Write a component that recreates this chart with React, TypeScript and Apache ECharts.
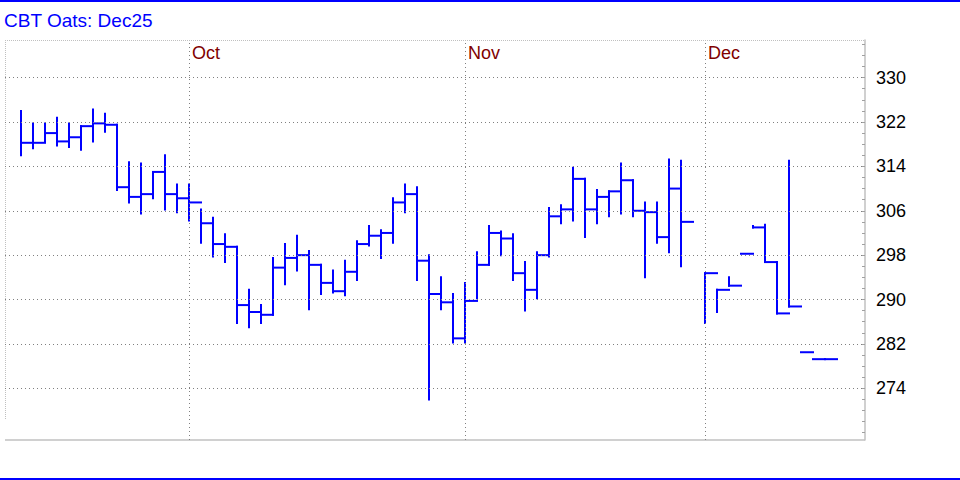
import React, { useEffect, useRef } from "react";
import * as echarts from "echarts";

// Daily bars (trading-day index 0 = first bar on the chart); null = no bar
const highs: (number | null)[] = [
  324.0, 321.75, 321.75, 322.75, 321.75, 321.25, 324.25, 323.5, 321.5, 314.75,
  314.5, 313.0, 316.0, 310.75, 310.75, 306.25, 304.75, 301.75, 299.5, 291.75,
  289.0, 297.5, 300.0, 301.5, 298.75, 296.25, 295.25, 297.0, 300.5, 303.25,
  302.5, 308.25, 310.75, 310.25, 298.0, 294.0, 291.0, 293.0, 298.5, 303.25,
  302.25, 301.75, 296.75, 298.5, 306.5, 307.0, 313.75, 311.75, 309.75, 309.5,
  314.5, 311.5, 307.5, 307.5, 315.25, 315.0, null, 294.75, 291.75, 294.0,
  298.25, 303.25, 303.5, 296.75, 315.0, 280.5, 279.25, 279.25,
];
const lows: (number | null)[] = [
  316.0, 317.25, 318.5, 317.75, 317.5, 317.0, 318.5, 320.25, 309.75, 307.5,
  305.5, 308.25, 306.25, 305.75, 304.25, 300.25, 297.75, 296.75, 285.75, 285.0,
  285.75, 287.25, 292.75, 295.25, 288.25, 291.0, 291.25, 290.75, 293.5, 299.75,
  297.5, 300.25, 305.75, 293.5, 272.0, 288.25, 282.25, 282.25, 290.25, 296.25,
  298.0, 293.5, 288.0, 290.25, 297.75, 303.75, 304.25, 301.25, 303.75, 305.0,
  305.5, 305.0, 294.0, 300.25, 298.5, 296.0, null, 285.75, 287.75, 292.5,
  298.25, 303.0, 296.75, 287.5, 288.75, 280.5, 279.25, 279.25,
];
const closes: (number | null)[] = [
  318.25, 318.25, 320.0, 318.5, 319.25, 321.25, 321.75, 321.5, 310.25, 308.5,
  309.0, 313.0, 309.0, 308.25, 307.5, 303.75, 300.0, 299.5, 289.0, 287.75,
  287.25, 295.75, 297.5, 298.0, 296.25, 293.0, 291.5, 295.0, 300.0, 301.5,
  302.0, 307.5, 309.0, 297.0, 291.0, 289.5, 283.0, 289.75, 296.25, 302.0,
  301.0, 294.75, 291.75, 298.0, 305.0, 306.25, 311.75, 306.25, 308.5, 309.5,
  311.5, 306.0, 305.75, 301.25, 310.0, 304.0, null, 294.75, 291.75, 292.5,
  298.25, 303.0, 296.75, 287.5, 288.75, 280.5, 279.25, 279.25,
];

const monthLabels = ["Oct", "Nov", "Dec"];
const monthStartIndex = [14, 37, 57];
const yTickLabels = [274, 282, 290, 298, 306, 314, 322, 330];

const FONT = "'Liberation Sans', Arial, sans-serif";
const BLUE = "#0000ff";

export default function App() {
  const ref = useRef<HTMLDivElement>(null);

  useEffect(() => {
    if (!ref.current) return;
    const chart = echarts.init(ref.current, undefined, { renderer: "svg" });

    const barData: number[][] = [];
    highs.forEach((h, i) => {
      const l = lows[i];
      const c = closes[i];
      if (h == null || l == null || c == null) return;
      barData.push([i, h, l, c]);
    });

    const minorTicks: number[] = [];
    for (let v = 266; v <= 336; v += 2) minorTicks.push(v);

    const option: any = {
      animation: false,
      backgroundColor: "#ffffff",
      grid: { left: 5, top: 40, width: 860, height: 400 },
      xAxis: {
        type: "value",
        position: "top",
        min: -4 / 3,
        max: 70 + 1 / 3,
        axisLine: { show: false },
        axisTick: { show: false },
        splitLine: { show: false },
        axisLabel: {
          show: true,
          inside: true,
          customValues: monthStartIndex,
          formatter: (v: number) => monthLabels[monthStartIndex.indexOf(Math.round(v))] ?? "",
          color: "#800000",
          fontSize: 18,
          fontFamily: FONT,
          align: "left",
          verticalAlign: "top",
          margin: 4,
          padding: [0, 0, 0, 3],
        },
      },
      yAxis: {
        type: "value",
        position: "right",
        min: 264.68,
        max: 336.78,
        axisLine: { show: true, onZero: false, lineStyle: { color: "#c0c0c0", width: 1.5 } },
        axisTick: {
          show: true,
          inside: true,
          length: 3,
          customValues: minorTicks,
          lineStyle: { color: "#a0a0a0", width: 1 },
        },
        axisLabel: {
          customValues: yTickLabels,
          color: "#000000",
          fontSize: 18,
          fontFamily: FONT,
          margin: 11,
        },
        splitLine: { show: false },
      },
      series: [
        {
          type: "line",
          data: [],
          silent: true,
          z: 1,
          markLine: {
            silent: true,
            symbol: ["none", "none"],
            label: { show: false },
            lineStyle: { type: [1, 3], color: "#808080", width: 1 },
            data: [
              ...yTickLabels.map((v) => ({ yAxis: v })),
              ...monthStartIndex.map((i) => ({ xAxis: i })),
            ],
          },
        },
        {
          type: "custom",
          z: 3,
          data: barData,
          encode: { x: 0, y: [1, 2, 3] },
          renderItem: (params: any, api: any) => {
            const i = api.value(0);
            const top = api.coord([i, api.value(1)]);
            const bot = api.coord([i, api.value(2)]);
            const cl = api.coord([i, api.value(3)]);
            const step = api.size([1, 0])[0];
            const style = { stroke: BLUE, lineWidth: 2, lineCap: "square" };
            return {
              type: "group",
              children: [
                {
                  type: "line",
                  shape: { x1: top[0], y1: top[1], x2: bot[0], y2: bot[1] },
                  style,
                },
                {
                  type: "line",
                  shape: { x1: cl[0], y1: cl[1], x2: cl[0] + step, y2: cl[1] },
                  style,
                },
              ],
            };
          },
        },
      ],
      graphic: [
        { type: "rect", shape: { x: 0, y: 0, width: 960, height: 2 }, style: { fill: BLUE } },
        { type: "rect", shape: { x: 0, y: 478, width: 960, height: 2 }, style: { fill: BLUE } },
        {
          type: "text",
          x: 4,
          y: 20,
          style: {
            text: "CBT Oats: Dec25",
            fill: BLUE,
            font: `19px ${FONT}`,
            verticalAlign: "middle",
          },
        },
        {
          type: "line",
          shape: { x1: 5, y1: 40.5, x2: 865, y2: 40.5 },
          style: { stroke: "#c0c0c0", lineWidth: 1, lineDash: [1, 1] },
        },
        {
          type: "line",
          shape: { x1: 5.5, y1: 40, x2: 5.5, y2: 420 },
          style: { stroke: "#c0c0c0", lineWidth: 1, lineDash: [1, 1] },
        },
        {
          type: "line",
          shape: { x1: 5, y1: 440, x2: 865, y2: 440 },
          style: { stroke: "#c0c0c0", lineWidth: 1.5 },
        },
      ],
    };

    chart.setOption(option);
    return () => chart.dispose();
  }, []);

  return (
    <div
      ref={ref}
      style={{ position: "fixed", left: 0, top: 0, width: 960, height: 480, background: "#fff" }}
    />
  );
}
